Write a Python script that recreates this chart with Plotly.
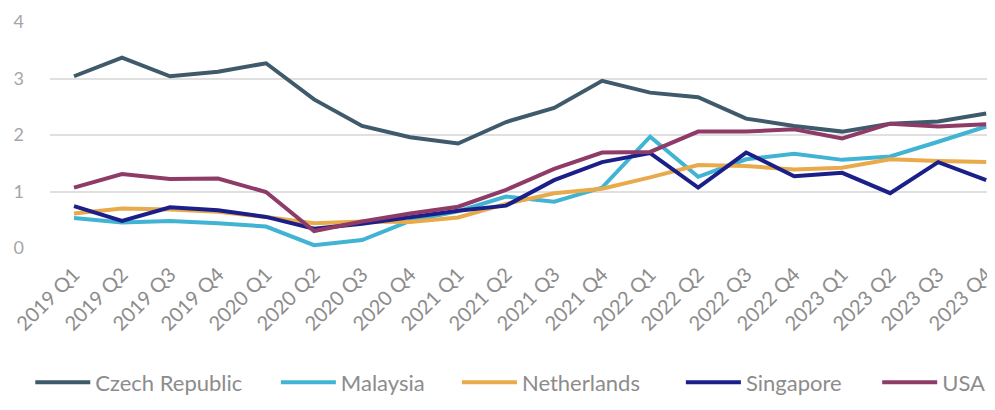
import plotly.graph_objects as go

quarters = ["2019 Q1", "2019 Q2", "2019 Q3", "2019 Q4",
            "2020 Q1", "2020 Q2", "2020 Q3", "2020 Q4",
            "2021 Q1", "2021 Q2", "2021 Q3", "2021 Q4",
            "2022 Q1", "2022 Q2", "2022 Q3", "2022 Q4",
            "2023 Q1", "2023 Q2", "2023 Q3", "2023 Q4"]

czech = [3.04, 3.37, 3.04, 3.12, 3.27, 2.63, 2.16, 1.96, 1.85, 2.23,
         2.48, 2.96, 2.75, 2.67, 2.29, 2.16, 2.06, 2.20, 2.24, 2.38]
malaysia = [0.53, 0.45, 0.48, 0.44, 0.38, 0.05, 0.14, 0.48, 0.65, 0.91,
            0.82, 1.07, 1.97, 1.26, 1.57, 1.67, 1.56, 1.62, 1.88, 2.15]
netherlands = [0.61, 0.70, 0.68, 0.64, 0.55, 0.44, 0.47, 0.46, 0.54, 0.78,
               0.97, 1.05, 1.25, 1.47, 1.45, 1.39, 1.42, 1.57, 1.54, 1.52]
singapore = [0.74, 0.48, 0.72, 0.67, 0.55, 0.34, 0.43, 0.54, 0.66, 0.75,
             1.20, 1.52, 1.68, 1.07, 1.69, 1.27, 1.33, 0.97, 1.52, 1.20]
usa = [1.07, 1.31, 1.22, 1.23, 0.99, 0.30, 0.47, 0.61, 0.73, 1.03,
       1.40, 1.69, 1.70, 2.06, 2.06, 2.10, 1.94, 2.20, 2.15, 2.19]

series = [
    ("Czech Republic", czech, "#3e5a6b"),
    ("Malaysia", malaysia, "#41b3d3"),
    ("Netherlands", netherlands, "#e9aa4c"),
    ("Singapore", singapore, "#1b1f8a"),
    ("USA", usa, "#8e3b68"),
]

# horizontal legend slot for each series (paper coordinates)
legend_x = [-0.0207, 0.237, 0.427, 0.662, 0.868]

fig = go.Figure()
x_idx = list(range(len(quarters)))
legend_names = ["legend", "legend2", "legend3", "legend4", "legend5"]
for (name, vals, color), lg in zip(series, legend_names):
    fig.add_trace(go.Scatter(
        x=x_idx, y=vals, name=name, mode="lines",
        line=dict(color=color, width=4), legend=lg,
    ))

layout_legends = {}
for lg, lx in zip(legend_names, legend_x):
    layout_legends[lg] = dict(
        orientation="h", x=lx, xanchor="left", y=-0.595, yanchor="middle",
        font=dict(size=22, color="#8c8c8c"), bgcolor="rgba(0,0,0,0)",
        itemwidth=55,
    )

fig.update_layout(
    width=995, height=410,
    margin=dict(l=42, r=0, t=14, b=170),
    paper_bgcolor="white", plot_bgcolor="white",
    font=dict(family="Lato, 'Open Sans', sans-serif", color="#8c8c8c"),
    showlegend=True,
    xaxis=dict(
        tickmode="array", tickvals=x_idx, ticktext=quarters,
        tickangle=-45, tickfont=dict(size=20, color="#8c8c8c"),
        range=[-0.5, 19.35], showgrid=False, zeroline=False,
        showline=False, ticks="", ticklabelstandoff=10,
    ),
    yaxis=dict(
        range=[0, 4], tickvals=[0, 1, 2, 3, 4],
        tickfont=dict(size=18, color="#a6a6a6"),
        showgrid=True, gridcolor="#e0e0e0", gridwidth=2,
        zeroline=False, showline=False, ticks="", ticklabelstandoff=25,
    ),
    **layout_legends,
)

fig.write_html("out.html")
